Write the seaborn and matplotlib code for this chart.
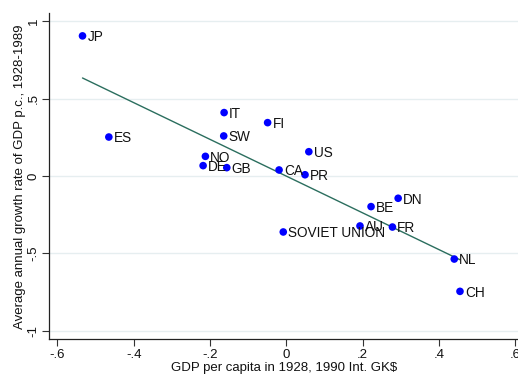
import matplotlib
matplotlib.use("Agg")
import matplotlib.pyplot as plt
import seaborn as sns
import pandas as pd

# Countries: log GDP per capita in 1928 (deviation) vs average growth 1928-1989
countries = ["JP", "ES", "IT", "SW", "NO", "DE", "GB", "FI", "US", "CA", "PR",
             "DN", "BE", "AU", "FR", "SOVIET UNION", "NL", "CH"]
gdp_1928 = [-0.534, -0.465, -0.163, -0.164, -0.212, -0.218, -0.156, -0.049, 0.059,
            -0.019, 0.049, 0.293, 0.222, 0.193, 0.278, -0.008, 0.440, 0.455]
growth = [0.906, 0.252, 0.410, 0.259, 0.127, 0.067, 0.054, 0.345, 0.157,
          0.039, 0.008, -0.144, -0.198, -0.323, -0.330, -0.362, -0.537, -0.746]

x_ticks = [-0.6, -0.4, -0.2, 0, 0.2, 0.4, 0.6]
x_tick_labels = ["-.6", "-.4", "-.2", "0", ".2", ".4", ".6"]
y_ticks = [-1, -0.5, 0, 0.5, 1]
y_tick_labels = ["-1", "-.5", "0", ".5", "1"]

df = pd.DataFrame({"country": countries, "gdp": gdp_1928, "growth": growth})

sns.set_theme(style="white")
plt.rcParams["font.family"] = ["Liberation Sans", "DejaVu Sans"]

fig = plt.figure(figsize=(5.18, 3.76), dpi=100)
ax = fig.add_axes([49.3 / 518, 1 - 339.3 / 376, (518 - 49.3) / 518, (339.3 - 13.3) / 376])

# horizontal grid
for yt in y_ticks:
    ax.axhline(yt, color="#e6eef0", lw=1.0, zorder=0)

# fitted line
sns.regplot(data=df, x="gdp", y="growth", ax=ax, ci=None, scatter=False,
            line_kws={"color": "#2b6e5e", "lw": 1.0, "zorder": 2})
sns.scatterplot(data=df, x="gdp", y="growth", ax=ax, color="#0000ff",
                s=30, edgecolor="none", zorder=3)

for name, xv, yv in zip(countries, gdp_1928, growth):
    ax.annotate(name, (xv, yv), xytext=(3.5, -1), textcoords="offset points",
                ha="left", va="center", fontsize=9.8, color="#111111", zorder=4)

ax.set_xlim(-0.621, 0.607)
ax.set_ylim(-1.056, 1.052)
ax.set_xticks(x_ticks)
ax.set_xticklabels(x_tick_labels)
ax.set_yticks(y_ticks)
ax.set_yticklabels(y_tick_labels, rotation=90, va="center")
ax.tick_params(axis="both", which="both", direction="out", length=5, width=0.8,
               color="#333333", labelsize=9.5, labelcolor="#111111", pad=2,
               bottom=True, left=True)

ax.set_xlabel("GDP per capita in 1928, 1990 Int. GK$", fontsize=9.5,
              color="#111111", labelpad=1)
ax.set_ylabel("Average annual growth rate of GDP p.c., 1928-1989", fontsize=9.5,
              color="#111111", labelpad=1)

for side in ["top", "right"]:
    ax.spines[side].set_visible(False)
for side in ["left", "bottom"]:
    ax.spines[side].set_color("#222222")
    ax.spines[side].set_linewidth(0.9)

fig.savefig("out.png", dpi=100)
